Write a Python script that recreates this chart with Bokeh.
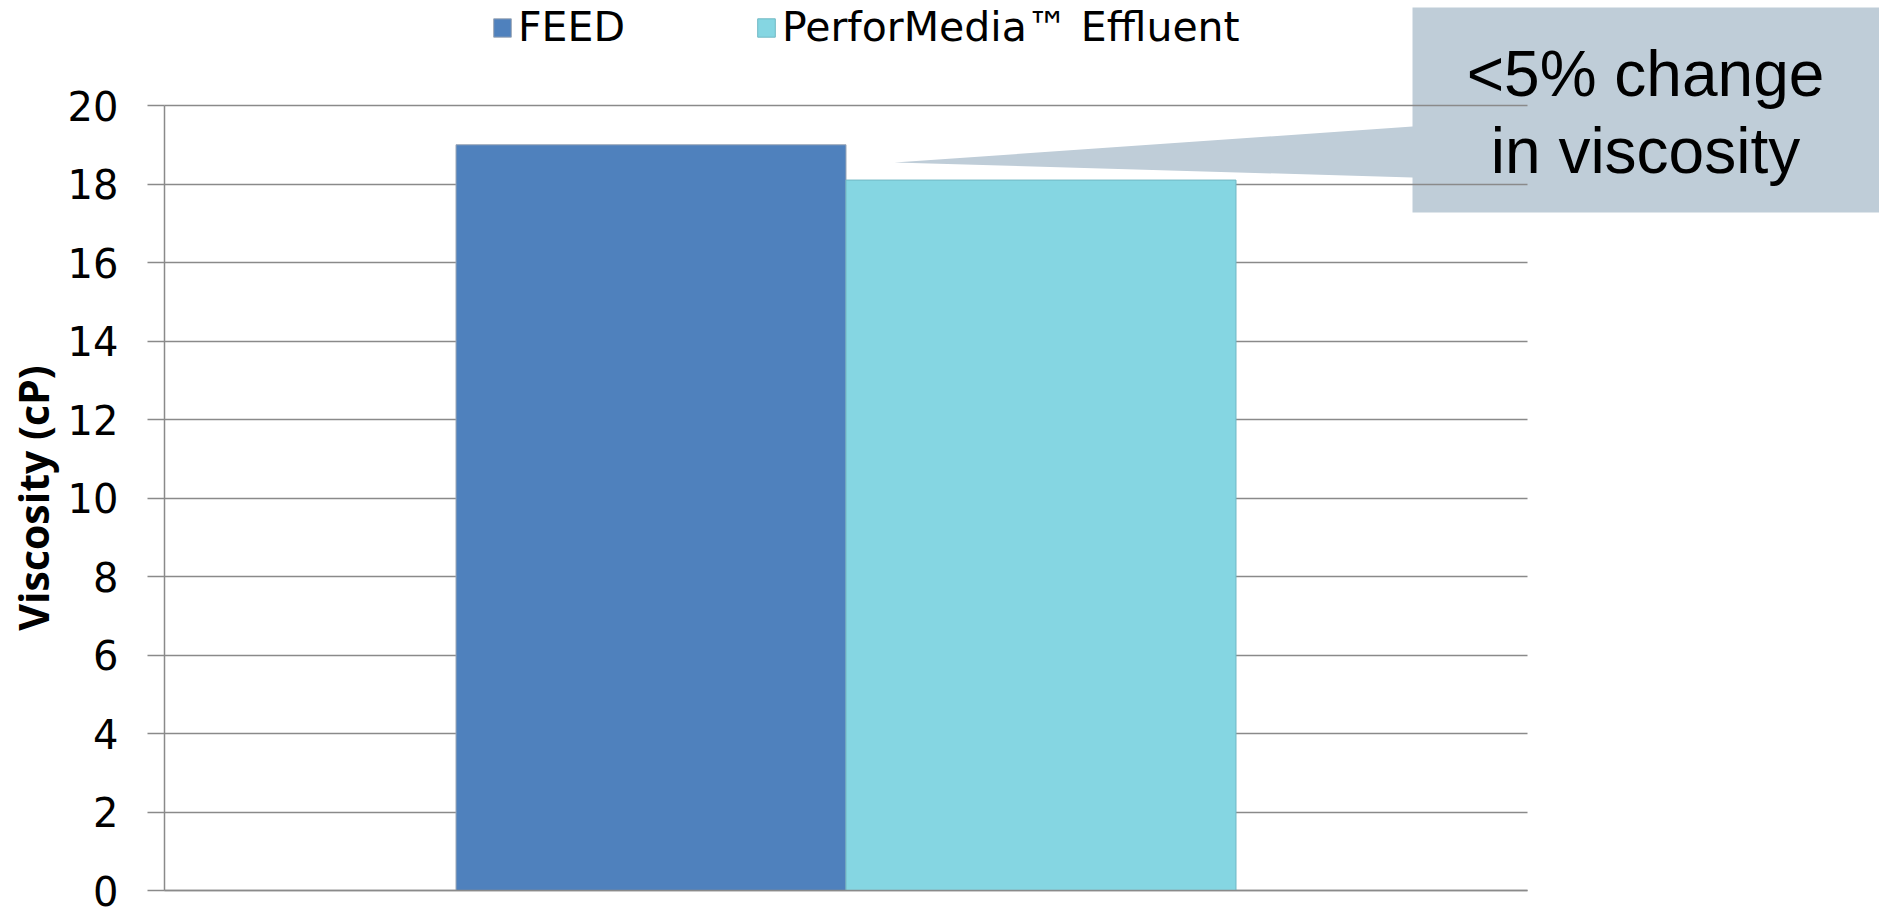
from bokeh.plotting import figure
from bokeh.models import (Range1d, FixedTicker, Legend, LegendItem, PolyAnnotation,
                          Label, ColumnDataSource)
from bokeh.embed import file_html
from bokeh.resources import INLINE

# ---- data ----
series = ["FEED", "PerforMedia\u2122 Effluent"]
values = [19.0, 18.1]
colors = ["#4f81bd", "#85d6e2"]
outline = ["#9aa6b6", "#70b8c4"]
y_ticks = [0, 2, 4, 6, 8, 10, 12, 14, 16, 18, 20]
y_title = "Viscosity (cP)"
callout_lines = ["<5% change", "in viscosity"]

# ---- layout (canvas pixels) ----
W, H = 1879, 908
FL, FR, FT, FB = 164, 1527, 105, 890          # visible plot area edges
YMIN, YMAX = 0, 20
HALF = 1.7475                                 # half x-extent of the plot area in bar widths
ppy = (FB - FT) / (YMAX - YMIN)
ppx = (FR - FL) / (2 * HALF)
x0 = -HALF - FL / ppx
x1 = HALF + (W - FR) / ppx
y0 = YMIN - (H - FB) / ppy
y1 = YMAX + FT / ppy

p = figure(width=W, height=H, x_range=Range1d(x0, x1), y_range=Range1d(y0, y1),
           output_backend="svg", toolbar_location=None, min_border=0)
p.title.visible = False
p.outline_line_color = None
p.background_fill_color = "white"
p.border_fill_color = "white"

GRAY = "#8a8a8a"
# callout box (behind grid)
px = [1412, 1882, 1882, 1412, 1412, 894, 1412]
py = [7, 7, 212, 212, 177, 162, 126]
poly = PolyAnnotation(xs=px, ys=py, xs_units="canvas", ys_units="canvas",
                      fill_color="#bfcdd8", fill_alpha=1.0, line_color=None, level="image")
p.add_layout(poly)

n = len(series)
items = []
for i, (name, v) in enumerate(zip(series, values)):
    src = ColumnDataSource(dict(x=[i - (n - 1) / 2], top=[v]))
    r = p.vbar(x="x", top="top", bottom=0, width=1.0, source=src,
               fill_color=colors[i], line_color=outline[i], line_width=1)
    items.append(LegendItem(label=name, renderers=[r]))

# axes
p.xgrid.visible = False
xax = p.xaxis[0]
xax.fixed_location = YMIN
xax.bounds = (-HALF, HALF)
xax.ticker = FixedTicker(ticks=[])
xax.axis_line_color = GRAY
xax.axis_line_width = 1.5
xax.major_tick_line_color = None
xax.minor_tick_line_color = None
xax.major_label_text_font_size = "0px"

yax = p.yaxis[0]
yax.fixed_location = -HALF
yax.bounds = (YMIN, YMAX)
yax.ticker = FixedTicker(ticks=y_ticks)
yax.axis_line_color = GRAY
yax.axis_line_width = 1.5
yax.major_tick_line_color = GRAY
yax.major_tick_line_width = 1.5
yax.major_tick_out = 17
yax.major_tick_in = 0
yax.minor_tick_line_color = None
yax.major_label_standoff = 29
yax.major_label_text_font = "DejaVu Sans"
yax.major_label_text_font_size = "40px"
yax.major_label_text_color = "black"
yax.axis_label = y_title
yax.axis_label_text_font = "Open Sans"
yax.axis_label_text_font_style = "bold"
yax.axis_label_text_font_size = "41px"
yax.axis_label_text_color = "black"
yax.axis_label_standoff = 4

p.ygrid.ticker = FixedTicker(ticks=y_ticks)
p.ygrid.grid_line_color = GRAY
p.ygrid.grid_line_width = 1.5
p.ygrid.cross_bounds = (-HALF, HALF)

legend = Legend(items=items, orientation="horizontal", location=(491, H - 51),
                glyph_width=22, glyph_height=23, label_standoff=5, spacing=130,
                padding=0, margin=0, border_line_color=None, background_fill_alpha=0,
                label_text_font="DejaVu Sans", label_text_font_size="41px",
                label_text_color="black")
p.add_layout(legend, "center")

for txt, base in zip(callout_lines, [73, 150]):
    p.add_layout(Label(x=1645, y=base, x_units="canvas", y_units="canvas", text=txt,
                       text_align="center", text_baseline="alphabetic",
                       text_font="Liberation Sans", text_font_size="64px",
                       text_color="black"))

open("out.html", "w").write(file_html(p, INLINE))
